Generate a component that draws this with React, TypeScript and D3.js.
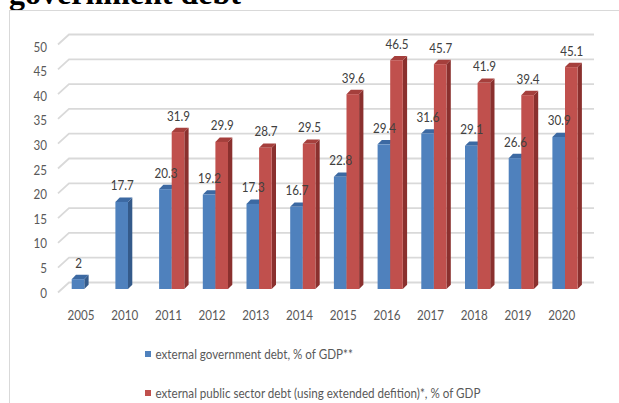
import React from "react";
import * as d3 from "d3";

const years = ["2005","2010","2011","2012","2013","2014","2015","2016","2017","2018","2019","2020"];
const govDebt: (number | null)[] = [2, 17.7, 20.3, 19.2, 17.3, 16.7, 22.8, 29.4, 31.6, 29.1, 26.6, 30.9];
const publicDebt: (number | null)[] = [null, null, 31.9, 29.9, 28.7, 29.5, 39.6, 46.5, 45.7, 41.9, 39.4, 45.1];
const yTicks = [0, 5, 10, 15, 20, 25, 30, 35, 40, 45, 50];
const seriesNames = [
  "external government debt, % of GDP**",
  "external public sector debt (using extended defition)*, % of GDP",
];

const W = 619, H = 403;
const FONT = "Lato, 'Open Sans', sans-serif";
const FS = 13;
const SX = 0.895;

const colors = [
  { front: "#4F81BD", top: "#3C69A2", side: "#345A8A" },
  { front: "#C0504D", top: "#A53F3C", side: "#8A302E" },
];

function T(props: { x: number; y: number; anchor?: string; fill: string; children: React.ReactNode }) {
  return (
    <text
      transform={`translate(${props.x},${props.y}) scale(${SX},1)`}
      textAnchor={props.anchor || "start"}
      fontFamily={FONT}
      fontSize={FS}
      fill={props.fill}
    >
      {props.children}
    </text>
  );
}

export default function App() {
  const x = d3.scalePoint<string>().domain(years).range([84.3, 565]);
  const yF = d3.scaleLinear().domain([0, 50]).range([289, 43]);
  const yB = d3.scaleLinear().domain([0, 50]).range([282.5, 34.5]);
  const bw = 12.6;
  const dx = 4.3, dy = 4.3;

  const bar = (xl: number, v: number, c: typeof colors[0], key: string) => {
    const yt = yF(v);
    const yb = yF(0);
    const xr = xl + bw;
    return (
      <g key={key}>
        <polygon points={`${xr},${yt} ${xr + dx},${yt - dy} ${xr + dx},${yb - dy} ${xr},${yb}`} fill={c.side} />
        <polygon points={`${xl},${yt} ${xl + dx},${yt - dy} ${xr + dx},${yt - dy} ${xr},${yt}`} fill={c.top} />
        <rect x={xl} y={yt} width={bw} height={yb - yt} fill={c.front} />
      </g>
    );
  };

  return (
    <svg width={W} height={H} style={{ position: "absolute", left: 0, top: 0 }}>
      <rect x={0} y={0} width={W} height={H} fill="#fff" />
      <text x={9} y={4} fontFamily="'Liberation Serif', 'Times New Roman', serif" fontWeight="bold" fontSize={32} fill="#000">
        government debt
      </text>
      <rect x={9.5} y={10.5} width={700} height={500} fill="none" stroke="#D9D9D9" strokeWidth={1} />
      {/* gridlines */}
      {yTicks.map((t) => (
        <g key={"g" + t}>
          <polyline
            points={`58,${yB(t) + 10} 69,${yB(t)} 594,${yB(t)}`}
            fill="none"
            stroke="#D9D9D9"
            strokeWidth={1.8}
          />
          <T x={47} y={yF(t) + 8.5} anchor="end" fill="#595959">{t}</T>
        </g>
      ))}
      {/* bars */}
      {years.map((yr, i) => {
        const c = x(yr)!;
        const a = govDebt[i];
        const b = publicDebt[i];
        return (
          <g key={yr}>
            {a != null && bar(c - bw, a, colors[0], "a")}
            {b != null && bar(c, b, colors[1], "b")}
          </g>
        );
      })}
      {/* value labels */}
      {years.map((yr, i) => {
        const c = x(yr)!;
        const a = govDebt[i];
        const b = publicDebt[i];
        return (
          <g key={"l" + yr}>
            {a != null && <T x={c - bw / 2 + 0.5} y={yF(a) - 11.5} anchor="middle" fill="#404040">{a}</T>}
            {b != null && <T x={c + bw / 2 + 0.5} y={yF(b) - 11.5} anchor="middle" fill="#404040">{b}</T>}
          </g>
        );
      })}
      {/* x labels */}
      {years.map((yr) => (
        <T key={"x" + yr} x={x(yr)! - 3.3} y={320} anchor="middle" fill="#595959">{yr}</T>
      ))}
      {/* legend */}
      {seriesNames.map((n, i) => (
        <g key={n}>
          <rect x={145} y={[351, 390][i]} width={6} height={6} fill={colors[i].front} />
          <T x={155.5} y={[358.5, 397.5][i]} fill="#595959">{n}</T>
        </g>
      ))}
    </svg>
  );
}
